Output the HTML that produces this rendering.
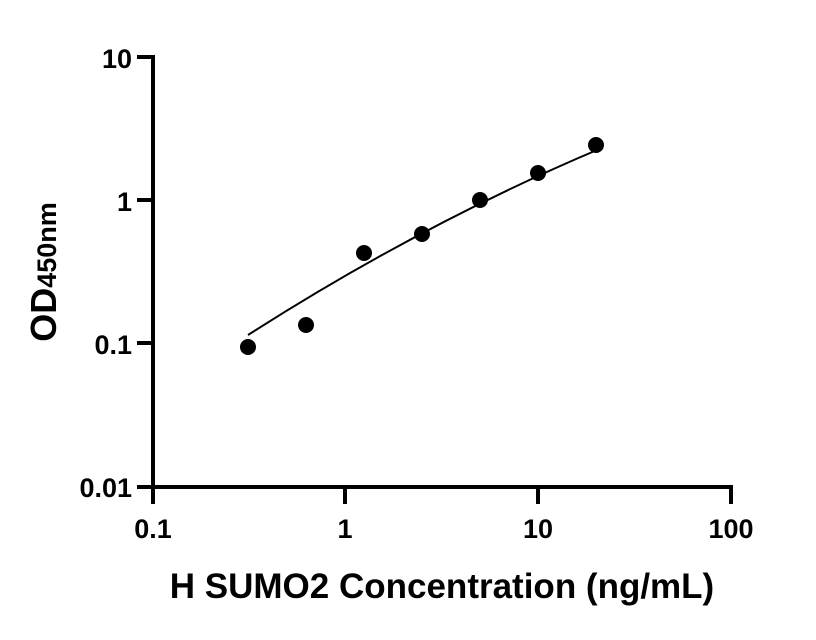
<!DOCTYPE html>
<html><head><style>body{margin:0;background:#fff}svg{display:block}</style></head><body>
<svg width="816" height="640" xmlns="http://www.w3.org/2000/svg" font-family="Liberation Sans, sans-serif" font-weight="bold">
<g stroke="#000" stroke-width="4" fill="none">
<path d="M153,57 V489"/>
<path d="M151,487 H733"/>
<path d="M137,57 H155 M137,200 H155 M137,343 H155 M137,487 H155"/>
<path d="M153,487 V504 M345,487 V504 M538,487 V504 M731,487 V504"/>
</g>
<g font-size="27" text-anchor="end">
<text x="132" y="68">10</text>
<text x="132" y="211">1</text>
<text x="132" y="354">0.1</text>
<text x="132" y="497">0.01</text>
</g>
<g font-size="27" text-anchor="middle">
<text x="153" y="538">0.1</text>
<text x="345" y="538">1</text>
<text x="538" y="538">10</text>
<text x="731" y="538">100</text>
</g>
<text x="442" y="598" font-size="35" text-anchor="middle">H SUMO2 Concentration (ng/mL)</text>
<text transform="translate(56,272) rotate(-90)" font-size="36" text-anchor="middle">OD<tspan font-size="27">450nm</tspan></text>
<path d="M248,335 Q420,225 597,150" stroke="#000" stroke-width="2" fill="none"/>
<g fill="#000">
<circle cx="248" cy="347" r="8"/>
<circle cx="306" cy="325" r="8"/>
<circle cx="364" cy="253" r="8"/>
<circle cx="422" cy="234" r="8"/>
<circle cx="480" cy="200" r="8"/>
<circle cx="538" cy="173" r="8"/>
<circle cx="596" cy="145" r="8"/>
</g>
</svg>
</body></html>
